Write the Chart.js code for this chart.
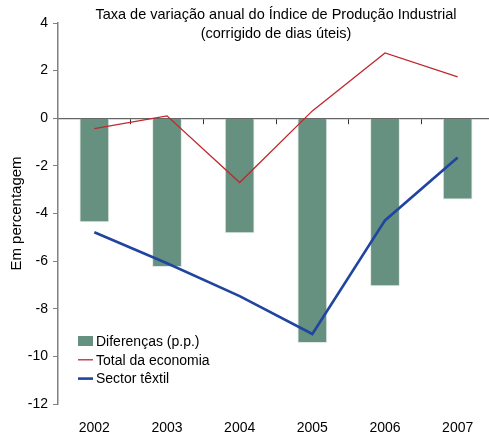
<!DOCTYPE html>
<html>
<head>
<meta charset="utf-8">
<script src="https://cdn.jsdelivr.net/npm/chart.js@4/dist/chart.umd.min.js"></script>
<style>
    html, body { margin: 0; padding: 0; background: #fff; overflow: hidden; }
    #wrap { width: 495px; height: 437px; }
</style>
</head>
<body>
<div id="wrap"><canvas id="chart"></canvas></div>
<script>
const years = ['2002', '2003', '2004', '2005', '2006', '2007'];
const diferencas = [-4.37, -6.25, -4.83, -9.44, -7.05, -3.41];
const totalEconomia = [-0.44, 0.1, -2.7, 0.31, 2.74, 1.74];
const sectorTextil = [-4.79, -6.09, -7.47, -9.06, -4.29, -1.65];
const yTicks = [4, 2, 0, -2, -4, -6, -8, -10, -12];

const titleLines = ['Taxa de variação anual do Índice de Produção Industrial', '(corrigido de dias úteis)'];
const FONT = '"Liberation Sans", Arial, sans-serif';

// title sits inside the plot, legend in the lower left of the plot
const overlayPlugin = {
    id: 'overlay',
    afterDraw(chart) {
        const ctx = chart.ctx;
        const area = chart.chartArea;
        ctx.save();
        ctx.fillStyle = '#000';
        ctx.font = '14.5px ' + FONT;
        ctx.textAlign = 'center';
        ctx.textBaseline = 'middle';
        const cx = (area.left + area.right) / 2;
        ctx.fillText(titleLines[0], cx, 15);
        ctx.fillText(titleLines[1], cx, 34);

        ctx.font = '14px ' + FONT;
        ctx.textAlign = 'left';
        const x = 78;
        let y = 341;
        chart.data.datasets.forEach(ds => {
            if (ds.type === 'bar') {
                ctx.fillStyle = ds.backgroundColor;
                ctx.fillRect(x, y - 5, 15, 10);
            } else {
                ctx.strokeStyle = ds.borderColor;
                ctx.lineWidth = ds.borderWidth;
                ctx.beginPath();
                ctx.moveTo(x, y);
                ctx.lineTo(x + 15, y);
                ctx.stroke();
            }
            ctx.fillStyle = '#000';
            ctx.fillText(ds.label, x + 18, y + 1);
            y += 18.8;
        });
        ctx.restore();
    }
};

new Chart(document.getElementById('chart'), {
    data: {
        labels: years,
        datasets: [
            {
                type: 'bar',
                label: 'Diferenças (p.p.)',
                data: diferencas,
                backgroundColor: '#66907f',
                borderColor: '#dfe8e4',
                borderWidth: { left: 1, right: 1, top: 0, bottom: 1 },
                borderSkipped: false,
                barPercentage: 0.41,
                categoryPercentage: 1,
                order: 3
            },
            {
                type: 'line',
                label: 'Total da economia',
                data: totalEconomia,
                borderColor: '#c0282d',
                borderWidth: 1.3,
                pointRadius: 0,
                tension: 0,
                order: 2
            },
            {
                type: 'line',
                label: 'Sector têxtil',
                data: sectorTextil,
                borderColor: '#2045a0',
                borderWidth: 2.6,
                pointRadius: 0,
                tension: 0,
                order: 1
            }
        ]
    },
    options: {
        responsive: true,
        maintainAspectRatio: false,
        animation: false,
        layout: { padding: { top: 23, right: 1, left: 0, bottom: 0 } },
        plugins: {
            legend: { display: false },
            title: { display: false },
            tooltip: { enabled: false }
        },
        scales: {
            x: {
                position: 'bottom',
                offset: true,
                grid: { display: false, drawTicks: false },
                border: { display: false },
                ticks: { color: '#000', font: { family: FONT, size: 14 }, padding: 16, maxRotation: 0 },
                afterFit(scale) { scale.height = 33; }
            },
            xZero: {
                type: 'category',
                axis: 'x',
                labels: years,
                position: { y: 0 },
                offset: true,
                grid: {
                    offset: true,
                    drawOnChartArea: false,
                    drawTicks: true,
                    tickLength: 5,
                    color: '#333',
                    lineWidth: 1
                },
                border: { display: true, color: '#666', width: 1.2 },
                ticks: { display: false }
            },
            y: {
                min: -12,
                max: 4,
                afterBuildTicks(scale) {
                    scale.ticks = yTicks.map(v => ({ value: v }));
                },
                grid: {
                    drawOnChartArea: false,
                    tickLength: 5,
                    color: '#808080'
                },
                border: { display: true, color: '#808080', width: 1.5 },
                ticks: { color: '#000', font: { family: FONT, size: 14 }, padding: 5 },
                title: {
                    display: true,
                    text: 'Em percentagem',
                    color: '#000',
                    font: { family: FONT, size: 15 },
                    padding: { top: 8, bottom: 0 }
                },
                afterFit(scale) { scale.width = 58; }
            }
        }
    },
    plugins: [overlayPlugin]
});
</script>
</body>
</html>
